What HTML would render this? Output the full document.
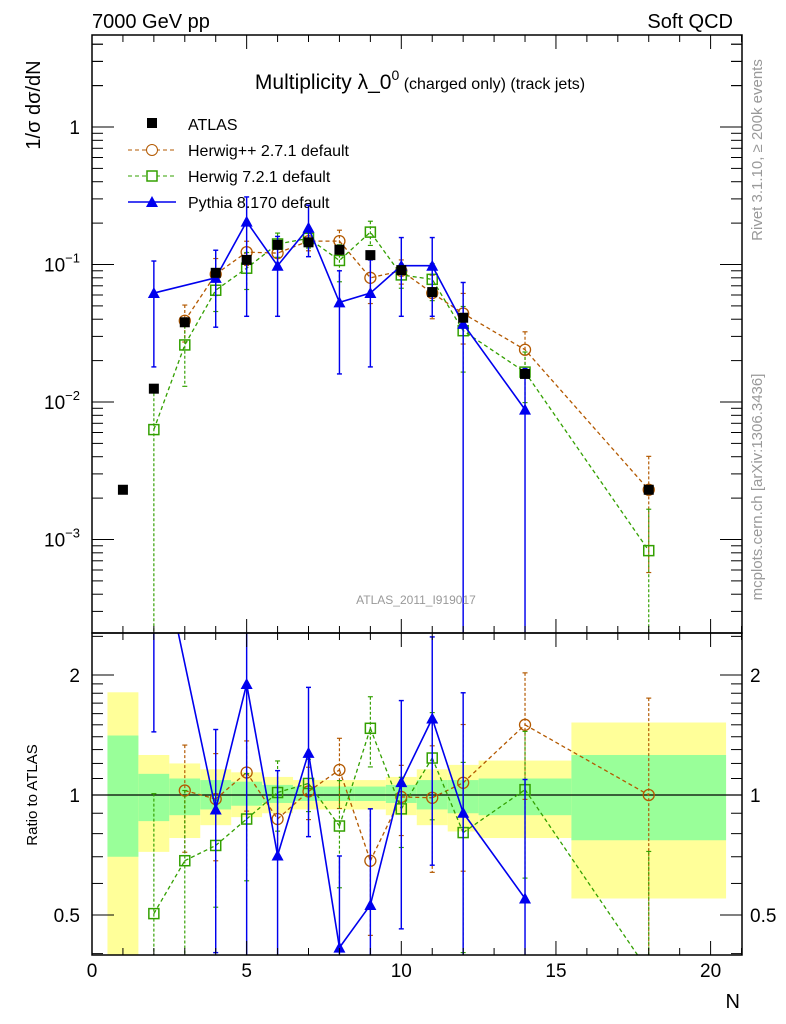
<!DOCTYPE html>
<html><head><meta charset="utf-8"><style>
html,body{margin:0;padding:0;background:#fff;overflow:hidden;width:786px;height:1024px;}
svg{display:block;font-family:"Liberation Sans",sans-serif;}
</style></head><body>
<svg id="c" width="786" height="1024" viewBox="0 0 786 1024" xmlns="http://www.w3.org/2000/svg">
<g id="bands"></g>
<g id="marks"></g>
<g id="axes"></g>
<text x="92" y="28" font-size="20">7000 GeV pp</text>
<text x="733" y="28" font-size="20" text-anchor="end">Soft QCD</text>
<text x="420" y="89" font-size="21" text-anchor="middle">Multiplicity λ_0<tspan font-size="14" dy="-9">0</tspan><tspan font-size="16" dy="9"> (charged only) (track jets)</tspan></text>
<text x="416" y="604" font-size="12" fill="#999" text-anchor="middle">ATLAS_2011_I919017</text>
<text transform="translate(762,150) rotate(-90)" font-size="15" fill="#999" text-anchor="middle">Rivet 3.1.10, ≥ 200k events</text>
<text transform="translate(762,487) rotate(-90)" font-size="15" fill="#999" text-anchor="middle">mcplots.cern.ch [arXiv:1306.3436]</text>
<text transform="translate(40,105) rotate(-90)" font-size="20" text-anchor="middle">1/σ dσ/dN</text>
<text transform="translate(37,795) rotate(-90)" font-size="15" text-anchor="middle">Ratio to ATLAS</text>
<text x="740" y="1008" font-size="20" text-anchor="end">N</text>
<g>
<g><rect x="147" y="118" width="10" height="10" fill="#000"/><text x="188" y="130" font-size="16">ATLAS</text></g>
<g><line x1="128" y1="150" x2="176" y2="150" stroke="#b35900" stroke-dasharray="4,3"/><circle cx="152" cy="150" r="5.5" fill="#fff" stroke="#b35900"/><text x="188" y="156" font-size="16">Herwig++ 2.7.1 default</text></g>
<g><line x1="128" y1="176" x2="176" y2="176" stroke="#33a000" stroke-dasharray="4,3"/><rect x="147" y="171" width="10" height="10" fill="#fff" stroke="#33a000" stroke-width="1.5"/><text x="188" y="182" font-size="16">Herwig 7.2.1 default</text></g>
<g><line x1="128" y1="202" x2="176" y2="202" stroke="#0000ee" stroke-width="1.5"/><path d="M146,207 L152,196 L158,207 Z" fill="#0000ee"/><text x="188" y="208" font-size="16">Pythia 8.170 default</text></g>
</g>
</svg>
<script>
// ---- data ----
const atlasN   = [1,2,3,4,5,6,7,8,9,10,11,12,14,18];
const atlasVal = [0.0023,0.0125,0.038,0.087,0.108,0.139,0.145,0.128,0.117,0.091,0.063,0.041,0.016,0.0023];
const hppN   = [3,4,5,6,7,8,9,10,11,12,14,18];
const hppVal = [0.039,0.085,0.123,0.121,0.148,0.148,0.080,0.090,0.062,0.044,0.024,0.0023];
const hppRelErr = [0.3,0.3,0.2,0.2,0.15,0.2,0.35,0.2,0.35,0.4,0.35,0.75];
const h7N   = [2,3,4,5,6,7,8,9,10,11,12,14,18];
const h7Val = [0.0063,0.026,0.065,0.094,0.141,0.155,0.107,0.172,0.084,0.078,0.033,0.0165,0.00083];
const h7RelErr = [1.0,0.5,0.3,0.3,0.2,0.15,0.3,0.2,0.2,0.3,0.5,0.4,1.0];
const pyN   = [2,4,5,6,7,8,9,10,11,12,14];
const pyVal = [0.062,0.080,0.205,0.098,0.185,0.053,0.062,0.098,0.098,0.037,0.0088];
const pyHi  = [0.106,0.127,0.31,0.16,0.27,0.09,0.108,0.157,0.157,0.074,0.0175];
const pyLo  = [0.018,0.035,0.042,0.042,0.114,0.016,0.018,0.042,0.042,0,0];
const bandEdges = [0.5,1.5,2.5,3.5,4.5,5.5,6.5,7.5,8.5,9.5,10.5,11.5,12.5,15.5,20.5];
const yelHi = [1.81,1.26,1.20,1.16,1.14,1.11,1.09,1.09,1.09,1.11,1.16,1.19,1.22,1.52];
const yelLo = [0.30,0.72,0.78,0.84,0.88,0.90,0.92,0.92,0.92,0.89,0.84,0.81,0.78,0.55];
const grnHi = [1.41,1.13,1.10,1.09,1.08,1.06,1.05,1.05,1.05,1.06,1.09,1.09,1.10,1.26];
const grnLo = [0.70,0.86,0.89,0.92,0.94,0.955,0.966,0.966,0.966,0.955,0.92,0.90,0.89,0.77];
const xTicks = [0,5,10,15,20];
const mainTicks = [1,0.1,0.01,0.001];
const ratioTicks = [0.5,1,2];

// ---- axes ----
const L=92,R=742,T=35,MB=633,RB=955;
const X=v=>L+v*30.93;
const cl=(y,a,b)=>Math.max(a,Math.min(b,y));
const YM=v=>v<=0?MB+2:cl(127-137.5*Math.log10(v),T-2,MB+2);
const YR=v=>v<=0?RB+2:cl(795-120*Math.log2(v),MB-2,RB+2);
const NS="http://www.w3.org/2000/svg";
function mk(tag,attrs,parent){const e=document.createElementNS(NS,tag);for(const k in attrs)e.setAttribute(k,attrs[k]);parent.appendChild(e);return e;}
const bands=document.getElementById('bands'),marks=document.getElementById('marks'),axes=document.getElementById('axes');

const defs=mk('defs',{},document.getElementById('c'));
const cp1=mk('clipPath',{id:'cm'},defs);mk('rect',{x:L,y:T,width:R-L,height:MB-T},cp1);
const cp2=mk('clipPath',{id:'cr'},defs);mk('rect',{x:L,y:MB,width:R-L,height:RB-MB},cp2);
bands.setAttribute('clip-path','url(#cr)');

for(let i=0;i<yelHi.length;i++){
  const x0=X(bandEdges[i]),x1=X(bandEdges[i+1]);
  const y=mk('rect',{x:x0,y:YR(yelHi[i]),width:x1-x0,height:YR(yelLo[i])-YR(yelHi[i]),fill:'#ffff99'},bands);
  
  
  const g=mk('rect',{x:x0,y:YR(grnHi[i]),width:x1-x0,height:YR(grnLo[i])-YR(grnHi[i]),fill:'#99ff99'},bands);
  
  
}
mk('line',{x1:L,y1:YR(1),x2:R,y2:YR(1),stroke:'#000','stroke-width':1.3},bands);

const gm=mk('g',{'clip-path':'url(#cm)'},marks);
const gr=mk('g',{'clip-path':'url(#cr)'},marks);

function errbar(g,x,yh,yl,col,dash,w){
  mk('line',{x1:x,y1:yh,x2:x,y2:yl,stroke:col,'stroke-width':w,'stroke-dasharray':dash||'none'},g);
  mk('line',{x1:x-2.5,y1:yh,x2:x+2.5,y2:yh,stroke:col,'stroke-width':w},g);
  mk('line',{x1:x-2.5,y1:yl,x2:x+2.5,y2:yl,stroke:col,'stroke-width':w},g);
}
function marker(g,type,x,y,col){
  let e;
  if(type==='sq') e=mk('rect',{x:x-5,y:y-5,width:10,height:10,fill:'#000'},g);
  if(type==='osq') e=mk('rect',{x:x-5,y:y-5,width:10,height:10,fill:'none',stroke:col,'stroke-width':1.5},g);
  if(type==='circ') e=mk('circle',{cx:x,cy:y,r:5.5,fill:'none',stroke:col,'stroke-width':1.3},g);
  if(type==='tri') e=mk('path',{d:`M${x-6},${y+5} L${x},${y-6} L${x+6},${y+5} Z`,fill:col},g);
  return e;
}
const aMap={};atlasN.forEach((n,i)=>aMap[n]=atlasVal[i]);
// for lines crossing out of the ratio panel, clip segment using unclamped coordinate
const YRraw=v=>795-120*Math.log2(v);
function series(name,N,V,hi,lo,col,dash,type,w){
  const pts=N.map((n,i)=>X(n)+','+YM(V[i])).join(' ');
  const p=mk('polyline',{points:pts,fill:'none',stroke:col,'stroke-width':w,'stroke-dasharray':dash||'none'},gm);
  
  
  // ratio line: compute segments clipped to panel analytically
  const rp=[];
  for(let i=0;i<N.length-1;i++){
    let x0=X(N[i]),y0=YRraw(V[i]/aMap[N[i]]),x1=X(N[i+1]),y1=YRraw(V[i+1]/aMap[N[i+1]]);
    const lo_=MB-2,hi_=RB+2;
    if((y0<lo_&&y1<lo_)||(y0>hi_&&y1>hi_))continue;
    const clipPt=(xa,ya,xb,yb)=>{let yy=ya<lo_?lo_:(ya>hi_?hi_:ya);if(yy===ya)return[xa,ya];const t=(yy-ya)/(yb-ya);return[xa+t*(xb-xa),yy];};
    const a=clipPt(x0,y0,x1,y1),b=clipPt(x1,y1,x0,y0);
    rp.push(`M${a[0]},${a[1]} L${b[0]},${b[1]}`);
  }
  const rpe=mk('path',{d:rp.join(' '),fill:'none',stroke:col,'stroke-width':w,'stroke-dasharray':dash||'none'},gr);
  
  
  N.forEach((n,i)=>{
    errbar(gm,X(n),YM(hi[i]),YM(lo[i]),col,dash?'3,2':null,w*0.9);
    errbar(gr,X(n),YR(hi[i]/aMap[n]),YR(lo[i]/aMap[n]),col,dash?'3,2':null,w*0.9);
    const m=marker(gm,type,X(n),YM(V[i]),col);
    
    
    const ry=YRraw(V[i]/aMap[n]);
    if(ry>=MB-6&&ry<=RB+6){
      const rm=marker(gr,type,X(n),ry,col);
      
      
    }
  });
}
series('herwigpp',hppN,hppVal,hppVal.map((v,i)=>v*(1+hppRelErr[i])),hppVal.map((v,i)=>v*(1-hppRelErr[i])),'#b35900','4,3','circ',1.3);
series('herwig7',h7N,h7Val,h7Val.map((v,i)=>v*(1+h7RelErr[i])),h7Val.map((v,i)=>v*(1-h7RelErr[i])),'#33a000','4,3','osq',1.3);
series('pythia',pyN,pyVal,pyHi,pyLo,'#0000ee',null,'tri',1.6);
atlasN.forEach((n,i)=>{
  const m=marker(gm,'sq',X(n),YM(atlasVal[i]),'#000');
  
  
});

mk('rect',{x:L,y:T,width:R-L,height:MB-T,fill:'none',stroke:'#000','stroke-width':1.5},axes);
mk('rect',{x:L,y:MB,width:R-L,height:RB-MB,fill:'none',stroke:'#000','stroke-width':1.5},axes);
for(let v=0;v<=21;v++){
  const len=(v%5===0)?14:7;
  [[T,1],[MB,-1],[MB,1],[RB,-1]].forEach(([y,d])=>mk('line',{x1:X(v),y1:y,x2:X(v),y2:y+d*len,stroke:'#000'},axes));
}
xTicks.forEach(v=>{
  const t=mk('text',{x:X(v),y:977,'font-size':19,'text-anchor':'middle'},axes);t.textContent=v;
  
  
});
for(let e=-4;e<=0;e++){for(let m=1;m<=9;m++){
  const v=m*Math.pow(10,e);const y=127-137.5*Math.log10(v);if(y<T||y>MB)continue;
  const len=m===1?22:11;
  mk('line',{x1:L,y1:y,x2:L+len,y2:y,stroke:'#000'},axes);
  mk('line',{x1:R,y1:y,x2:R-len,y2:y,stroke:'#000'},axes);
}}
[2,3,4].forEach(m=>{const y=YM(m);mk('line',{x1:L,y1:y,x2:L+11,y2:y,stroke:'#000'},axes);mk('line',{x1:R,y1:y,x2:R-11,y2:y,stroke:'#000'},axes);});
mainTicks.forEach(v=>{
  const e=Math.round(Math.log10(v));
  const t=mk('text',{x:80,y:YM(v)+7,'font-size':19,'text-anchor':'end'},axes);
  
  
  if(e===0)t.textContent='1';else t.innerHTML='10<tspan font-size="13" dy="-9">'+(e<0?'−':'')+Math.abs(e)+'</tspan>';
});
[0.4,0.5,0.6,0.7,0.8,0.9,1,1.1,1.2,1.3,1.4,1.5,1.6,1.7,1.8,1.9,2,2.5].forEach(v=>{
  const y=YRraw(v);if(y<MB||y>RB)return;
  const len=(v===0.5||v===1||v===2)?22:11;
  mk('line',{x1:L,y1:y,x2:L+len,y2:y,stroke:'#000'},axes);
  mk('line',{x1:R,y1:y,x2:R-len,y2:y,stroke:'#000'},axes);
});
ratioTicks.forEach(v=>{
  const t=mk('text',{x:80,y:YR(v)+7,'font-size':19,'text-anchor':'end'},axes);t.textContent=v;
  
  
  const t2=mk('text',{x:750,y:YR(v)+7,'font-size':19},axes);t2.textContent=v;
  
  
});
</script>
</body></html>
